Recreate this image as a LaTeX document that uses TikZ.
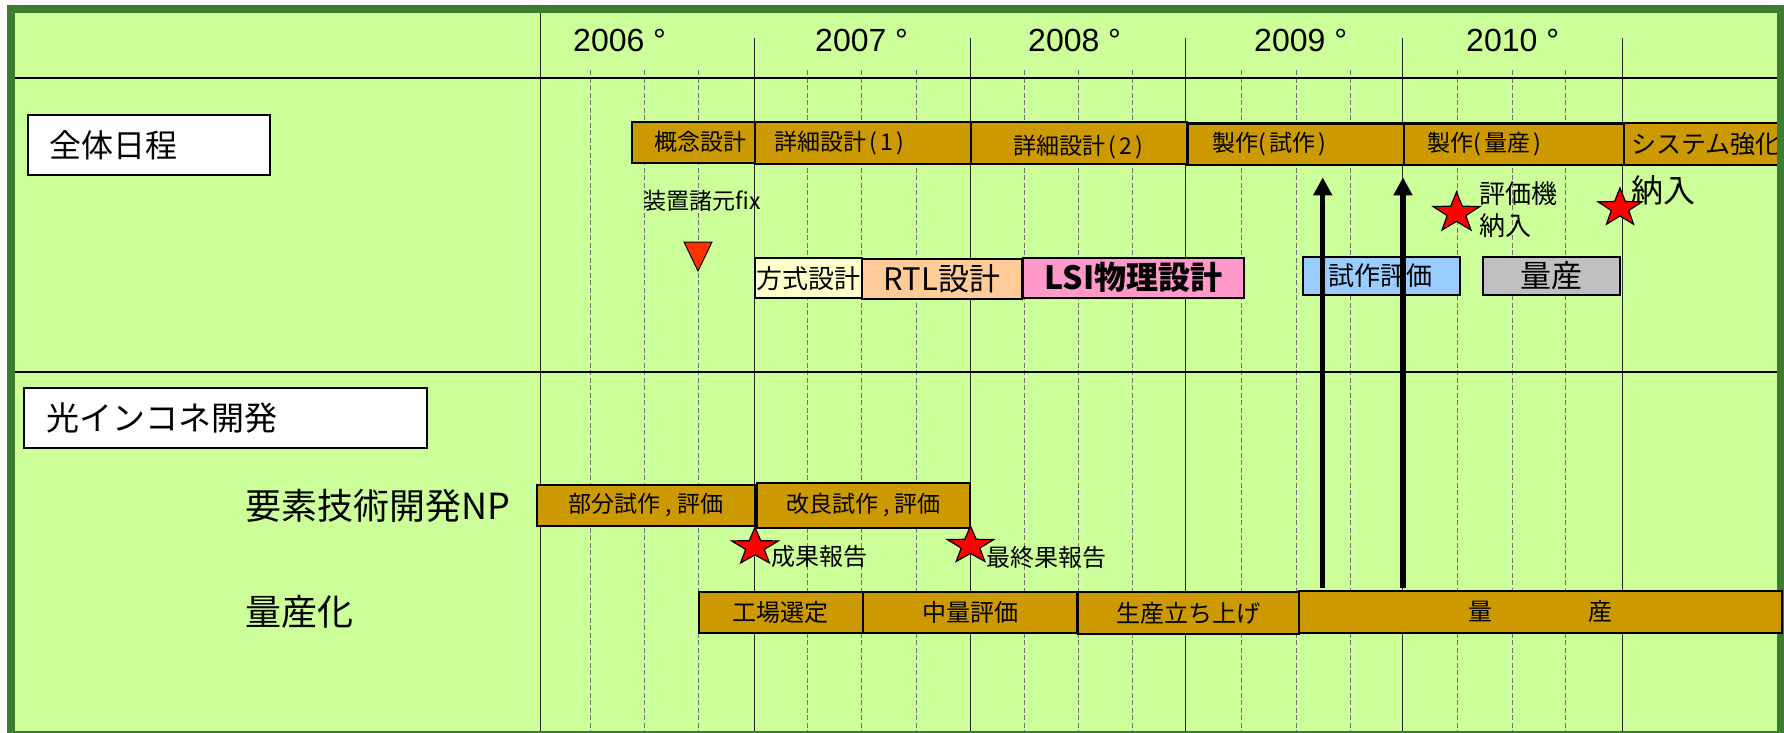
\documentclass[tikz,border=0pt]{standalone}
\usepackage{fontspec}
\setmainfont{Noto Sans CJK JP}
\newfontfamily\arialf{Liberation Sans}
\usetikzlibrary{arrows.meta,shapes.geometric}
\definecolor{bgc}{HTML}{CCFF99}
\definecolor{framec}{RGB}{61,125,49}
\definecolor{barc}{HTML}{CC9900}
\definecolor{yelc}{HTML}{FFFFCC}
\definecolor{peachc}{HTML}{FFCC99}
\definecolor{pinkc}{HTML}{FF99CC}
\definecolor{bluec}{HTML}{99CCFF}
\definecolor{grayc}{HTML}{C0C0C0}
\definecolor{trired}{HTML}{FF3300}
\newcommand\fsz[1]{\fontsize{#1}{#1}\selectfont}
\begin{document}
\begin{tikzpicture}[x=1pt,y=-1pt,
 yearlbl/.style={anchor=west, inner sep=0pt, font=\arialf\fsz{32}},
 txt/.style={anchor=west, inner sep=0pt},
 gridsolid/.style={line width=1pt, draw=black!85},
 griddash/.style={line width=0.8pt, draw=black!55, dash pattern=on 5pt off 2.5pt},
 sepline/.style={line width=2pt, draw=black},
 bar/.style={draw=black, line width=2pt, fill=barc, anchor=north west, inner sep=0pt, font=\fsz{23}},
 lbar/.style={bar, align=left},
 phase/.style={draw=black, line width=2pt, anchor=north west, inner sep=0pt},
 labelbox/.style={draw=black, line width=2pt, fill=white, anchor=north west, align=left, inner ysep=0pt},
 starmark/.style={star, star points=5, star point ratio=2.5, fill=red, draw=black, line width=1.2pt, inner sep=0pt},
 bigarrow/.style={line width=5.5pt, -{Triangle[length=18pt,width=18pt]}},
]
\useasboundingbox (0,0) rectangle (1784,732);
\fill[bgc] (10,9) rectangle (1781,735);
% grid
\draw[gridsolid] (540,13) -- (540,731);
\foreach \x in {754,970,1185,1402,1622} \draw[gridsolid] (\x,38) -- (\x,731);
\foreach \x in {590,644,698,807,861,916,1024,1078,1132,1241,1296,1350,1457,1512,1565} \draw[griddash] (\x,70) -- (\x,731);
\draw[sepline] (14,78) -- (1777,78);
\draw[sepline] (14,371.5) -- (1777,371.5);
% years
\node[yearlbl] (y06) at (573,40) {2006 °};
\node[yearlbl] (y07) at (815,40) {2007 °};
\node[yearlbl] (y08) at (1028,40) {2008 °};
\node[yearlbl] (y09) at (1254,40) {2009 °};
\node[yearlbl] (y10) at (1466,40) {2010 °};
% label boxes
\node[labelbox, minimum width=242pt, minimum height=60pt, text width=200pt, inner xsep=21pt, font=\fsz{32}] (zentai) at (27,114) {全体日程};
\node[labelbox, minimum width=403pt, minimum height=60.5pt, text width=359pt, inner xsep=22pt, font=\fsz{33}] (hikari) at (23.3,386.7) {光インコネ開発};
% top bars
\node[bar, minimum width=122.5pt, minimum height=40.5pt, text width=106.5pt, inner xsep=8pt, align=right] (gainen) at (631,121) {概念設計};
\node[lbar, minimum width=216pt, minimum height=41.5pt, text width=176pt, inner xsep=20pt] (shosai1) at (753.5,121) {詳細設計\kern3pt(\kern3pt1\kern3pt)};
\node[bar, minimum width=216pt, minimum height=41.5pt] (shosai2) at (969.5,121) {\raisebox{-4pt}[20pt][4pt]{詳細設計\kern3pt(\kern3pt2\kern3pt)}};
\node[lbar, line width=2.5pt, minimum width=216.5pt, minimum height=41.5pt, text width=166.5pt, inner xsep=25pt] (seisaku1) at (1186,122) {製作(\kern3pt試作\kern3pt)};
\node[lbar, line width=2.5pt, minimum width=220.5pt, minimum height=41.5pt, text width=172.5pt, inner xsep=24pt] (seisaku2) at (1402.5,122) {製作(\kern3pt量産\kern3pt)};
\node[lbar, minimum width=175pt, minimum height=41.5pt, text width=161pt, inner xsep=7pt, font=\fsz{25}] (system) at (1623,122) {システム強化};
% phase boxes
\node[phase, fill=yelc, minimum width=107.3pt, minimum height=40pt, font=\fsz{26}] (hoshiki) at (753.7,257.3) {方式設計};
\node[phase, fill=peachc, minimum width=160pt, minimum height=40.6pt, font=\fsz{31}] (rtl) at (861,257.7) {RTL設計};
\node[phase, fill=pinkc, minimum width=221pt, minimum height=40pt, font=\bfseries\fsz{32}] (lsi) at (1022,256.7) {LSI物理設計};
\node[phase, fill=bluec, minimum width=157.3pt, minimum height=38.6pt, text width=105.3pt, inner xsep=26pt, align=left, font=\fsz{26}] (shisaku) at (1301.7,255.7) {試作評価};
\node[phase, fill=grayc, minimum width=137.3pt, minimum height=38.6pt, font=\fsz{31}] (ryosan1) at (1481.7,255.7) {量産};
% milestones top
\node[txt, font=\fsz{23}] (fix) at (643,201) {装置諸元fix};
\filldraw[fill=trired, draw=black, line width=1pt] (684,242) -- (712,242) -- (698,271) -- cycle;
\node[txt, align=left, font=\fontsize{26}{32}\selectfont] (hyoka) at (1479,210) {評価機\\納入};
\node[starmark, minimum size=42pt, xscale=1.17] (star1) at (1456.5,213) {};
\node[txt, font=\fsz{32}] (nonyu) at (1631,190) {納入};
\node[starmark, minimum size=40pt, xscale=1.15] (star2) at (1620,208) {};
% lower section
\node[txt, font=\fsz{36}] (yoso) at (245,506) {要素技術開発NP};
\node[txt, font=\fsz{36}] (ryosanka) at (245,612) {量産化};
\node[bar, minimum width=218.3pt, minimum height=41pt] (bubun) at (536,484) {部分試作 , 評価};
\node[bar, minimum width=213.8pt, minimum height=44.7pt] (kairyo) at (755.5,482) {改良試作 , 評価};
\node[txt, font=\fsz{24}] (seika) at (771,556) {成果報告};
\node[txt, font=\fsz{24}] (saishu) at (986,557) {最終果報告};
\node[starmark, minimum size=39.2pt, xscale=1.25] (star3) at (755,547) {};
\node[starmark, minimum size=39pt, xscale=1.25] (star4) at (970.5,545.6) {};
\node[bar, font=\fsz{24}, minimum width=164.5pt, minimum height=40.7pt] (kojo) at (697.5,591) {工場選定};
\node[bar, font=\fsz{24}, minimum width=214pt, minimum height=40.7pt] (churyo) at (862,591) {中量評価};
\node[bar, font=\fsz{24}, minimum width=221pt, minimum height=42.3pt] (tachiage) at (1077,591) {生産立ち上げ};
% arrows
\coordinate (a1b) at (1322.7,588);
\coordinate (a1t) at (1322.7,177.3);
\coordinate (a2b) at (1403,588);
\coordinate (a2t) at (1403,177.3);
\draw[bigarrow] (a1b) -- (a1t);
\draw[bigarrow] (a2b) -- (a2t);
% frame
\draw[framec, line width=8pt] (10.5,9) rectangle (1780.7,735);
\node[bar, font=\fsz{24}, minimum width=482.7pt, minimum height=41.7pt] (ryosan2) at (1298,590) {量\hspace{96pt}産};
\end{tikzpicture}
\end{document}
